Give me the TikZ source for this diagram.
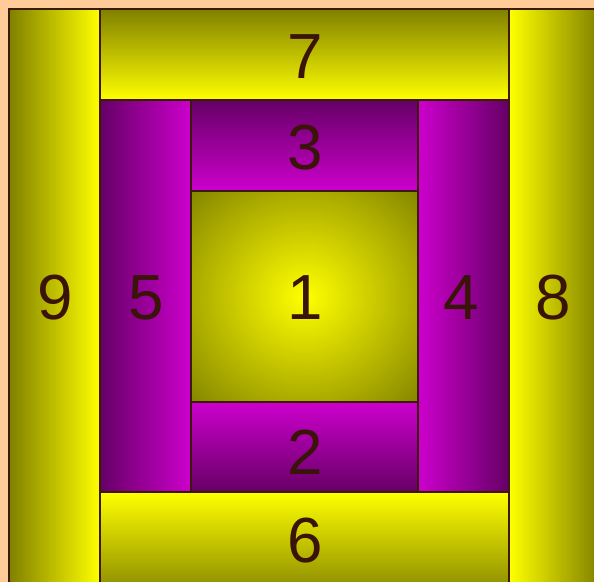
\documentclass[tikz,border=0pt]{standalone}
\usepackage{fontspec}
\setmainfont{Liberation Sans}
\definecolor{bgpeach}{HTML}{FFCC99}
\definecolor{oliv}{HTML}{808000}
\definecolor{yel}{HTML}{FFFF00}
\definecolor{mag}{HTML}{CC00CC}
\definecolor{dpur}{HTML}{660066}
\definecolor{edge}{HTML}{3A1A0A}
\definecolor{lab}{HTML}{3A1408}
\pgfdeclareradialshading{tileone}{\pgfpoint{0bp}{0bp}}{color(0bp)=(yel); color(37bp)=(oliv); color(50bp)=(oliv)}
\tikzset{
  tile/.style={draw=edge, line width=2.4bp},
  lbl/.style={text=lab, font=\fontsize{64}{64}\selectfont, inner sep=0pt},
}
\begin{document}
\begin{tikzpicture}[x=1bp,y=-1bp]
\useasboundingbox (0,0) rectangle (594,582);
\fill[bgpeach] (0,0) rectangle (594,582);
\begin{scope}
\clip (0,0) rectangle (594,582);
% yellow ring
\path[tile, left color=oliv, right color=yel] (9,9) rectangle (100,600);
\path[tile, top color=oliv, bottom color=yel] (100,9) rectangle (509,100);
\path[tile, left color=yel, right color=oliv] (509,9) rectangle (600,600);
\path[tile, top color=yel, bottom color=oliv] (100,492) rectangle (509,600);
% magenta ring
\path[tile, left color=dpur, right color=mag] (100,100) rectangle (191,492);
\path[tile, left color=mag, right color=dpur] (418,100) rectangle (509,492);
\path[tile, top color=dpur, bottom color=mag] (191,100) rectangle (418,191);
\path[tile, top color=mag, bottom color=dpur] (191,402) rectangle (418,492);
% center
\path[tile, shade, shading=tileone] (191,191) rectangle (418,402);
\end{scope}
\node[lbl] (n1) at (305,298) {1};
\node[lbl] (n2) at (305,452) {2};
\node[lbl] (n3) at (305,148) {3};
\node[lbl] (n4) at (461,298) {4};
\node[lbl] (n5) at (146,298) {5};
\node[lbl] (n6) at (305,541) {6};
\node[lbl] (n7) at (305,57) {7};
\node[lbl] (n8) at (553,298) {8};
\node[lbl] (n9) at (55,298) {9};
\end{tikzpicture}
\end{document}
